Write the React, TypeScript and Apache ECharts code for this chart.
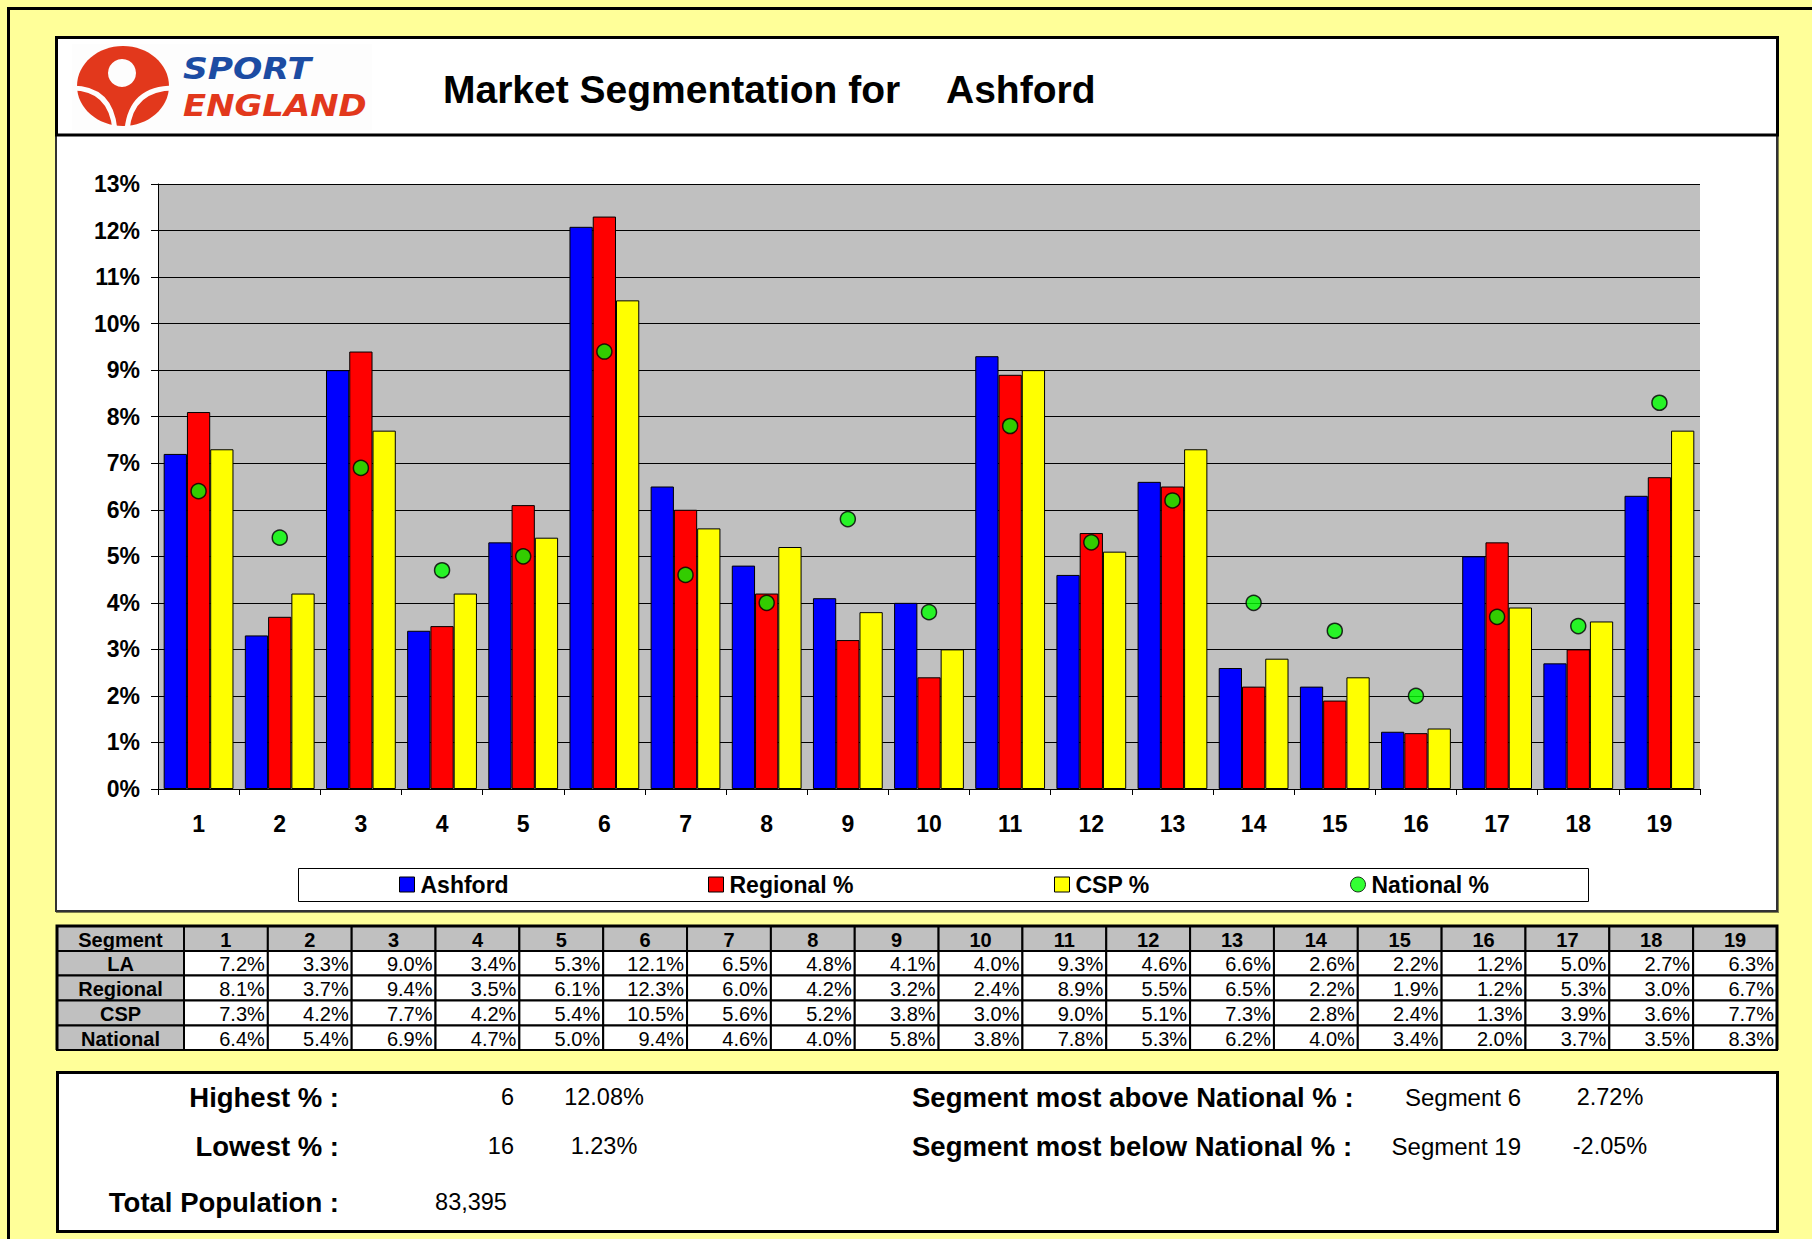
import React, { useEffect, useRef } from "react";
import * as echarts from "echarts";

// ---------- data ----------
const segments = ["1", "2", "3", "4", "5", "6", "7", "8", "9", "10", "11", "12", "13", "14", "15", "16", "17", "18", "19"];
const laValues = [7.2, 3.3, 9.0, 3.4, 5.3, 12.08, 6.5, 4.8, 4.1, 4.0, 9.3, 4.6, 6.6, 2.6, 2.2, 1.23, 5.0, 2.7, 6.3];
const regionalValues = [8.1, 3.7, 9.4, 3.5, 6.1, 12.3, 6.0, 4.2, 3.2, 2.4, 8.9, 5.5, 6.5, 2.2, 1.9, 1.2, 5.3, 3.0, 6.7];
const cspValues = [7.3, 4.2, 7.7, 4.2, 5.4, 10.5, 5.6, 5.2, 3.8, 3.0, 9.0, 5.1, 7.3, 2.8, 2.4, 1.3, 3.9, 3.6, 7.7];
const nationalValues = [6.4, 5.4, 6.9, 4.7, 5.0, 9.4, 4.6, 4.0, 5.8, 3.8, 7.8, 5.3, 6.2, 4.0, 3.4, 2.0, 3.7, 3.5, 8.3];
const seriesNames = ["Ashford", "Regional %", "CSP %", "National %"];
const tableRowLabels = ["LA", "Regional", "CSP", "National"];
const tableHeaderLabel = "Segment";
const titleText = "Market Segmentation for";
const areaName = "Ashford";
const yMin = 0;
const yMax = 13;
const yInterval = 1;

const highestLabel = "Highest % :";
const highestSegment = "6";
const highestValue = "12.08%";
const lowestLabel = "Lowest % :";
const lowestSegment = "16";
const lowestValue = "1.23%";
const totalLabel = "Total Population :";
const totalPopulation = "83,395";
const aboveLabel = "Segment most above National % :";
const aboveSegment = "Segment 6";
const aboveValue = "2.72%";
const belowLabel = "Segment most below National % :";
const belowSegment = "Segment 19";
const belowValue = "-2.05%";

const FONT = "'Liberation Sans', Arial, Helvetica, sans-serif";
const LOGO_FONT = "'DejaVu Sans', Verdana, sans-serif";

function txt(text: string, x: number, y: number, size: number, bold: boolean, align: string, fill = "#000", extra: any = {}, elExtra: any = {}) {
  return {
    type: "text",
    x,
    y,
    z: 50,
    ...elExtra,
    style: {
      text,
      fill,
      fontSize: size,
      fontWeight: bold ? "bold" : "normal",
      fontFamily: FONT,
      align,
      verticalAlign: "middle",
      ...extra,
    },
  };
}

function buildGraphics() {
  const g: any[] = [];
  // outer border (top & left)
  g.push({
    type: "polyline",
    z: -20,
    shape: { points: [[8.5, 1239], [8.5, 8.5], [1812, 8.5]] },
    style: { stroke: "#000", lineWidth: 3, fill: null },
  });
  // chart box
  g.push({
    type: "rect",
    z: -10,
    shape: { x: 56, y: 135, width: 1721, height: 776 },
    style: { fill: "#fff", stroke: "#333", lineWidth: 2, shadowColor: "rgba(0,0,0,0.5)", shadowOffsetX: 1, shadowOffsetY: 1, shadowBlur: 1 },
  });
  // header box
  g.push({
    type: "rect",
    z: -9,
    shape: { x: 56.5, y: 37.5, width: 1721, height: 97.5 },
    style: { fill: "#fff", stroke: "#000", lineWidth: 3 },
  });
  // logo
  g.push({ type: "rect", z: -8, shape: { x: 72, y: 44, width: 300, height: 86 }, style: { fill: "#fdfdfd" } });
  g.push({ type: "ellipse", z: 10, shape: { cx: 123, cy: 86, rx: 46, ry: 40 }, style: { fill: "#E2381C" } });
  g.push({ type: "circle", z: 11, shape: { cx: 122, cy: 73, r: 14 }, style: { fill: "#fdfdfd" } });
  g.push({
    type: "bezierCurve",
    z: 11,
    shape: { x1: 72, y1: 88, cpx1: 111, cpy1: 88, x2: 115, y2: 130 },
    style: { stroke: "#fdfdfd", lineWidth: 5, fill: null },
  });
  g.push({
    type: "bezierCurve",
    z: 11,
    shape: { x1: 174, y1: 88, cpx1: 131, cpy1: 88, x2: 127, y2: 130 },
    style: { stroke: "#fdfdfd", lineWidth: 5, fill: null },
  });
  g.push(txt("SPORT", 183, 69, 30, true, "left", "#1C4CA3", { fontStyle: "italic", fontFamily: LOGO_FONT }, { scaleX: 1.15 }));
  g.push(txt("ENGLAND", 183, 106, 30, true, "left", "#E2381C", { fontStyle: "italic", fontFamily: LOGO_FONT }, { scaleX: 1.13 }));
  // title
  g.push(txt(titleText, 443, 89, 39, true, "left"));
  g.push(txt(areaName, 946, 89, 39, true, "left"));
  // legend box
  g.push({
    type: "rect",
    z: -5,
    shape: { x: 298.5, y: 868.5, width: 1290, height: 33 },
    style: { fill: "#fff", stroke: "#000", lineWidth: 1 },
  });

  // table
  const tx0 = 57;
  const tx1 = 184;
  const txEnd = 1777;
  const colW = (txEnd - tx1) / segments.length;
  const rowY = [926, 951, 975.5, 1000.5, 1025.5, 1050];
  const rows = [segments.map(() => 0), laValues, regionalValues, cspValues, nationalValues];
  for (let r = 0; r < 5; r++) {
    const y0 = rowY[r];
    const h = rowY[r + 1] - rowY[r];
    const yc = y0 + h / 2;
    g.push({
      type: "rect",
      z: 20,
      shape: { x: tx0, y: y0, width: tx1 - tx0, height: h },
      style: { fill: "#C0C0C0", stroke: "#000", lineWidth: 2 },
    });
    g.push(txt(r === 0 ? tableHeaderLabel : tableRowLabels[r - 1], (tx0 + tx1) / 2, yc + 1, 20, true, "center"));
    for (let c = 0; c < segments.length; c++) {
      const x0 = tx1 + c * colW;
      g.push({
        type: "rect",
        z: 20,
        shape: { x: x0, y: y0, width: colW, height: h },
        style: { fill: r === 0 ? "#C0C0C0" : "#fff", stroke: "#000", lineWidth: 2 },
      });
      if (r === 0) {
        g.push(txt(segments[c], x0 + colW / 2, yc + 1, 20, true, "center"));
      } else {
        g.push(txt((rows[r][c] as number).toFixed(1) + "%", x0 + colW - 3, yc + 1, 20, false, "right"));
      }
    }
  }
  g.push({
    type: "polyline",
    z: 30,
    shape: { points: [[tx0, 1050], [tx0, 926], [txEnd, 926], [txEnd, 1050]] },
    style: { stroke: "#000", lineWidth: 3, fill: null },
  });

  // bottom summary box
  g.push({
    type: "rect",
    z: -5,
    shape: { x: 57.5, y: 1072.5, width: 1720, height: 159 },
    style: { fill: "#fff", stroke: "#000", lineWidth: 3 },
  });
  g.push(txt(highestLabel, 339, 1097, 27.5, true, "right"));
  g.push(txt(highestSegment, 514, 1097, 23.5, false, "right"));
  g.push(txt(highestValue, 604, 1097, 23.5, false, "center"));
  g.push(txt(lowestLabel, 339, 1146, 27.5, true, "right"));
  g.push(txt(lowestSegment, 514, 1146, 23.5, false, "right"));
  g.push(txt(lowestValue, 604, 1146, 23.5, false, "center"));
  g.push(txt(totalLabel, 339, 1202, 27.5, true, "right"));
  g.push(txt(totalPopulation, 471, 1202, 23.5, false, "center"));
  g.push(txt(aboveLabel, 912, 1097, 27.5, true, "left"));
  g.push(txt(aboveSegment, 1521, 1097, 24, false, "right"));
  g.push(txt(aboveValue, 1610, 1097, 23.5, false, "center"));
  g.push(txt(belowLabel, 912, 1146, 27.5, true, "left"));
  g.push(txt(belowSegment, 1521, 1146, 24, false, "right"));
  g.push(txt(belowValue, 1610, 1146, 23.5, false, "center"));
  return g;
}

const legendLefts = [399, 708, 1054, 1350];

export default function App() {
  const ref = useRef<HTMLDivElement>(null);
  useEffect(() => {
    if (!ref.current) return;
    const chart = echarts.init(ref.current, null, { renderer: "svg" });
    const barColors = ["#0000FF", "#FF0000", "#FFFF00"];
    const barData = [laValues, regionalValues, cspValues];
    const option: any = {
      animation: false,
      backgroundColor: "#FFFF99",
      textStyle: { fontFamily: FONT },
      grid: {
        left: 158,
        top: 184,
        width: 1542,
        height: 605,
        show: true,
        backgroundColor: "#C0C0C0",
        borderWidth: 0,
      },
      legend: seriesNames.map((name, i) => ({
        data: [{ name, icon: i === 3 ? "circle" : "rect" }],
        left: legendLefts[i],
        top: 873,
        padding: 0,
        itemWidth: 15,
        itemHeight: 15,
        itemGap: 0,
        selectedMode: false,
        itemStyle: { borderColor: "#000", borderWidth: 1 },
        textStyle: { fontSize: 23, fontWeight: "bold", color: "#000", fontFamily: FONT, padding: [0, 0, 0, 1] },
      })),
      xAxis: {
        type: "category",
        data: segments,
        axisLine: { show: true, lineStyle: { color: "#000", width: 1 } },
        axisTick: { show: true, length: 6, lineStyle: { color: "#000" } },
        axisLabel: { fontSize: 23, fontWeight: "bold", color: "#000", margin: 23, fontFamily: FONT },
        splitLine: { show: false },
      },
      yAxis: {
        type: "value",
        min: yMin,
        max: yMax,
        interval: yInterval,
        axisLine: { show: true, lineStyle: { color: "#000", width: 1 } },
        axisTick: { show: true, length: 7, lineStyle: { color: "#000" } },
        axisLabel: { formatter: "{value}%", fontSize: 23, fontWeight: "bold", color: "#000", margin: 18, fontFamily: FONT },
        splitLine: { show: true, lineStyle: { color: "#000", width: 1 } },
      },
      series: [
        ...barData.map((d, i) => ({
          name: seriesNames[i],
          type: "bar",
          data: d,
          barGap: "0%",
          barCategoryGap: "14%",
          itemStyle: { color: barColors[i], borderColor: "#000", borderWidth: 1 },
        })),
        {
          name: seriesNames[3],
          type: "scatter",
          data: nationalValues,
          symbol: "circle",
          symbolSize: 15,
          z: 5,
          itemStyle: { color: "#00FF00", borderColor: "#000", borderWidth: 1.5 },
        },
      ],
      graphic: buildGraphics(),
    };
    chart.setOption(option);
    return () => chart.dispose();
  }, []);
  return (
    <div
      ref={ref}
      style={{ position: "absolute", left: 0, top: 0, width: 1812, height: 1239 }}
    />
  );
}
